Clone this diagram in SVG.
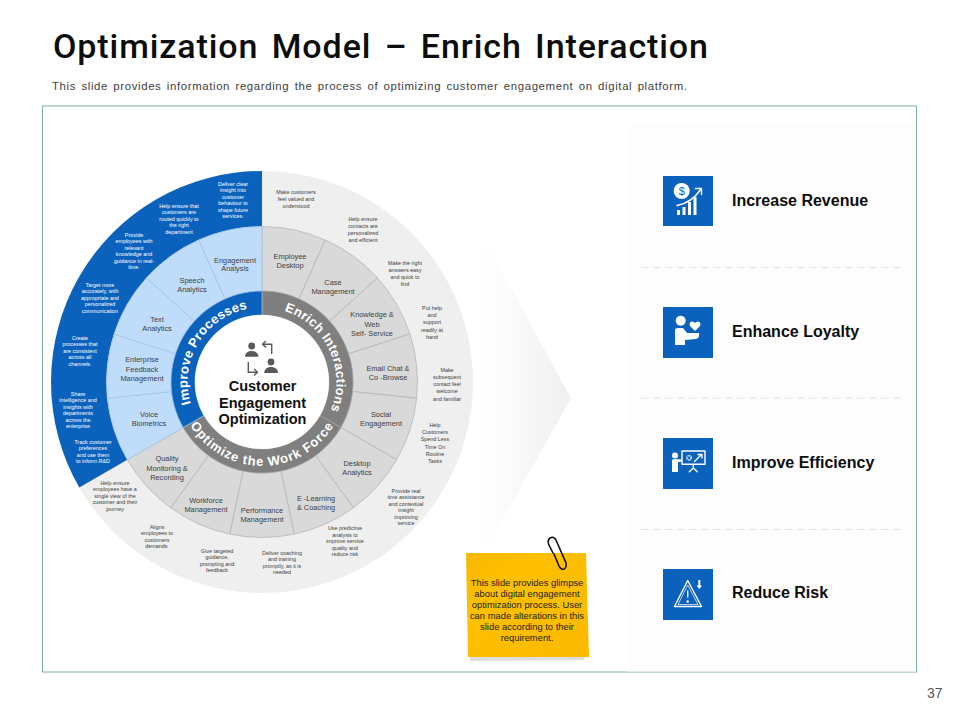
<svg xmlns="http://www.w3.org/2000/svg" width="960" height="720" viewBox="0 0 960 720">
<style>
text{font-family:"Liberation Sans",Arial,sans-serif}
.t{font-family:Roboto,"Liberation Sans",sans-serif;font-weight:500;font-size:34px;fill:#0d0d0d;word-spacing:4px}
.sub{font-size:11.4px;fill:#404040;word-spacing:1.6px}
.o{font-size:5.4px;fill:#404040;text-anchor:middle}
.w{font-size:5.4px;fill:#fff;text-anchor:middle}
.m{font-size:7.4px;fill:#404040;text-anchor:middle}
.r{font-size:13px;font-weight:bold;fill:#fff;text-anchor:middle}
.c{font-size:14.5px;font-weight:bold;fill:#111;text-anchor:middle}
.l{font-size:16px;font-weight:bold;fill:#0d0d0d}
.n{font-size:9.4px;fill:#222;text-anchor:middle}
.sq{fill:#0b62bd}
.lb{fill:#bfdcfb;stroke:#a3c5e8;stroke-width:.8}
.gr{fill:#d9d9d9;stroke:#b8b8b8;stroke-width:.8}
.dash{stroke:#e2e2e2;stroke-width:1;stroke-dasharray:8 4}
.ic{fill:#fff}
.il{fill:none;stroke:#fff;stroke-width:1.4;stroke-linecap:round;stroke-linejoin:round}
.pi{fill:#595959}
.pa{fill:none;stroke:#595959;stroke-width:1.4}
</style>
<defs>
<linearGradient id="chev" x1="0" x2="1" y1="0" y2="0"><stop offset="0" stop-color="#fff"/><stop offset=".3" stop-color="#fbfbfb"/><stop offset="1" stop-color="#efefef"/></linearGradient>
<linearGradient id="note" x1="0" x2="1" y1="0" y2="1"><stop offset="0" stop-color="#f8b800"/><stop offset=".3" stop-color="#ffc000"/><stop offset="1" stop-color="#fbb900"/></linearGradient>
<path id="wedge" d="M262,291V226.5A155.5,155.5 0 0 1 325.2,240L299,298.9A91,91 0 0 0 262,291Z"/>
<path id="ring" d="M262,291A91,91 0 0 1 340.8,427.5L320,415.5A67,67 0 0 0 262,315Z"/>
<path id="pImprove" d="M196.8,418.1A74.5,74.5 0 0 1 263.3,307.5"/>
<path id="pEnrich" d="M268.5,307.8A74.5,74.5 0 0 1 323,424.7"/>
<path id="pOptimize" d="M189.3,424A84,84 0 0 0 334.7,424"/>
</defs>
<rect width="960" height="720" fill="#fff"/>
<g id="header">
<text class="t" x="53" y="58" textLength="655" lengthAdjust="spacing">Optimization Model – Enrich Interaction</text>
<text class="sub" x="52" y="90" textLength="635" lengthAdjust="spacing">This slide provides information regarding the process of optimizing customer engagement on digital platform.</text>
</g>
<rect id="frame" x="42.5" y="106" width="874" height="566" fill="#fff" stroke="#7fb0a0" stroke-width="1"/>
<rect id="panel" x="628" y="125" width="288" height="546.500" fill="#fdfdfd"/>
<polygon id="chevron" points="480,232 571,398 480,560" fill="url(#chev)"/>
<g id="wheel-outer">
<circle cx="262" cy="382" r="211" fill="#efefef"/>
<path d="M79.3,487.5A211,211 0 0 1 262,171V226.5A155.5,155.5 0 0 0 127.3,459.8Z" fill="#0b62bd"/>
</g>
<g id="seg-employee-desktop"><use href="#wedge" class="gr"/><text class="m" x="290" y="259">Employee</text><text class="m" x="290" y="268">Desktop</text><text class="o" x="296" y="194">Make customers</text><text class="o" x="296" y="200.8">feel valued and</text><text class="o" x="296" y="207.6">understood</text></g>
<g id="seg-case-management"><use href="#wedge" class="gr" transform="rotate(24 262 382)"/><text class="m" x="333" y="285">Case</text><text class="m" x="333" y="294">Management</text><text class="o" x="363" y="221">Help ensure</text><text class="o" x="363" y="228">contacts are</text><text class="o" x="363" y="235">personalized</text><text class="o" x="363" y="242">and efficient</text></g>
<g id="seg-knowledge"><use href="#wedge" class="gr" transform="rotate(48 262 382)"/><text class="m" x="372" y="317">Knowledge &amp;</text><text class="m" x="372" y="326.5">Web</text><text class="m" x="372" y="336">Self- Service</text><text class="o" x="405" y="265">Make the right</text><text class="o" x="405" y="272">answers easy</text><text class="o" x="405" y="279">and quick to</text><text class="o" x="405" y="286">find</text></g>
<g id="seg-email-chat"><use href="#wedge" class="gr" transform="rotate(72 262 382)"/><text class="m" x="388" y="371">Email Chat &amp;</text><text class="m" x="388" y="380">Co -Browse</text><text class="o" x="432" y="310">Put help</text><text class="o" x="432" y="317.2">and</text><text class="o" x="432" y="324.4">support</text><text class="o" x="432" y="331.6">readily at</text><text class="o" x="432" y="338.8">hand</text></g>
<g id="seg-social"><use href="#wedge" class="gr" transform="rotate(96 262 382)"/><text class="m" x="381" y="417">Social</text><text class="m" x="381" y="426">Engagement</text><text class="o" x="447" y="372">Make</text><text class="o" x="447" y="379">subsequent</text><text class="o" x="447" y="386">contact feel</text><text class="o" x="447" y="393">welcome</text><text class="o" x="447" y="401">and familiar</text></g>
<g id="seg-desktop-analytics"><use href="#wedge" class="gr" transform="rotate(120 262 382)"/><text class="m" x="357" y="466">Desktop</text><text class="m" x="357" y="475">Analytics</text><text class="o" x="435" y="427">Help</text><text class="o" x="435" y="434.2">Customers</text><text class="o" x="435" y="441.4">Spend Less</text><text class="o" x="435" y="448.6">Time On</text><text class="o" x="435" y="455.8">Routine</text><text class="o" x="435" y="463">Tasks</text></g>
<g id="seg-elearning"><use href="#wedge" class="gr" transform="rotate(144 262 382)"/><text class="m" x="316" y="501">E -Learning</text><text class="m" x="316" y="509.5">&amp; Coaching</text><text class="o" x="406" y="493">Provide real</text><text class="o" x="406" y="499.4">time assistance</text><text class="o" x="406" y="505.8">and contextual</text><text class="o" x="406" y="512.2">insight</text><text class="o" x="406" y="518.6">improving</text><text class="o" x="406" y="525">service</text></g>
<g id="seg-performance"><use href="#wedge" class="gr" transform="rotate(168 262 382)"/><text class="m" x="262" y="513">Performance</text><text class="m" x="262" y="522">Management</text><text class="o" x="345" y="530">Use predictive</text><text class="o" x="345" y="536.6">analysis to</text><text class="o" x="345" y="543.2">improve service</text><text class="o" x="345" y="549.8">quality and</text><text class="o" x="345" y="556.4">reduce risk</text></g>
<g id="seg-workforce"><use href="#wedge" class="gr" transform="rotate(192 262 382)"/><text class="m" x="206" y="503">Workforce</text><text class="m" x="206" y="512">Management</text><text class="o" x="282" y="555">Deliver coaching</text><text class="o" x="282" y="561.4">and training</text><text class="o" x="282" y="567.8">promptly, as it is</text><text class="o" x="282" y="574.2">needed</text><text class="o" x="217" y="553">Give targeted</text><text class="o" x="217" y="559.4">guidance,</text><text class="o" x="217" y="565.8">prompting and</text><text class="o" x="217" y="572.2">feedback</text></g>
<g id="seg-quality"><use href="#wedge" class="gr" transform="rotate(216 262 382)"/><text class="m" x="167" y="461">Quality</text><text class="m" x="167" y="470.5">Monitoring &amp;</text><text class="m" x="167" y="480">Recording</text><text class="o" x="157" y="529">Aligns</text><text class="o" x="157" y="535.4">employees to</text><text class="o" x="157" y="541.8">customers</text><text class="o" x="157" y="548.2">demands.</text><text class="o" x="115" y="485">Help ensure</text><text class="o" x="115" y="491.4">employees have a</text><text class="o" x="115" y="497.8">single view of the</text><text class="o" x="115" y="504.2">customer and their</text><text class="o" x="115" y="510.6">journey</text></g>
<g id="seg-voice"><use href="#wedge" class="lb" transform="rotate(240 262 382)"/><text class="m" x="149" y="417">Voice</text><text class="m" x="149" y="426">Biometrics</text><text class="w" x="93" y="444">Track customer</text><text class="w" x="93" y="450.4">preferences</text><text class="w" x="93" y="456.8">and use them</text><text class="w" x="93" y="463.2">to inform R&amp;D</text></g>
<g id="seg-enterprise"><use href="#wedge" class="lb" transform="rotate(264 262 382)"/><text class="m" x="142" y="362">Enterprise</text><text class="m" x="142" y="371.5">Feedback</text><text class="m" x="142" y="381">Management</text><text class="w" x="78" y="396">Share</text><text class="w" x="78" y="402.4">intelligence and</text><text class="w" x="78" y="408.8">insights with</text><text class="w" x="78" y="415.2">departments</text><text class="w" x="78" y="421.6">across the</text><text class="w" x="78" y="428">enterprise</text><text class="w" x="80" y="340">Create</text><text class="w" x="80" y="346.4">processes that</text><text class="w" x="80" y="352.8">are consistent</text><text class="w" x="80" y="359.2">across all</text><text class="w" x="80" y="365.6">channels.</text></g>
<g id="seg-text"><use href="#wedge" class="lb" transform="rotate(288 262 382)"/><text class="m" x="157" y="322">Text</text><text class="m" x="157" y="331">Analytics</text><text class="w" x="100" y="287">Target more</text><text class="w" x="100" y="293.4">accurately, with</text><text class="w" x="100" y="299.8">appropriate and</text><text class="w" x="100" y="306.2">personalized</text><text class="w" x="100" y="312.6">communication</text></g>
<g id="seg-speech"><use href="#wedge" class="lb" transform="rotate(312 262 382)"/><text class="m" x="192" y="283">Speech</text><text class="m" x="192" y="292">Analytics</text><text class="w" x="134" y="237">Provide</text><text class="w" x="134" y="243.4">employees with</text><text class="w" x="134" y="249.8">relevant</text><text class="w" x="134" y="256.2">knowledge and</text><text class="w" x="134" y="262.6">guidance in real-</text><text class="w" x="134" y="269">time.</text><text class="w" x="179" y="208">Help ensure that</text><text class="w" x="179" y="214.4">customers are</text><text class="w" x="179" y="220.8">routed quickly to</text><text class="w" x="179" y="227.2">the right</text><text class="w" x="179" y="233.6">department</text></g>
<g id="seg-engagement"><use href="#wedge" class="lb" transform="rotate(336 262 382)"/><text class="m" x="235" y="262.5">Engagement</text><text class="m" x="235" y="271">Analysis</text><text class="w" x="233" y="186">Deliver clear</text><text class="w" x="233" y="192.4">insight into</text><text class="w" x="233" y="198.8">customer</text><text class="w" x="233" y="205.2">behaviour to</text><text class="w" x="233" y="211.6">shape future</text><text class="w" x="233" y="218">services.</text></g>
<g id="ring-enrich"><use href="#ring" fill="#7f7f7f" stroke="#a6a6a6" stroke-width=".6"/><text class="r" letter-spacing=".3"><textPath href="#pEnrich" startOffset="50%">Enrich Interactions</textPath></text></g>
<g id="ring-optimize"><use href="#ring" fill="#7f7f7f" stroke="#a6a6a6" stroke-width=".6" transform="rotate(120 262 382)"/><text class="r" letter-spacing=".85"><textPath href="#pOptimize" startOffset="50%">Optimize the Work Force</textPath></text></g>
<g id="ring-improve"><use href="#ring" fill="#0b62bd" stroke="#a6c6e8" stroke-width=".6" transform="rotate(240 262 382)"/><text class="r" letter-spacing=".3"><textPath href="#pImprove" startOffset="50%">Improve Processes</textPath></text></g>
<g id="hub">
<circle cx="262" cy="382" r="67" fill="#fff"/>
<circle class="pi" cx="251.7" cy="346" r="3.4"/><path class="pi" d="M245,356.8C245,349 258.5,349 258.5,356.8Z"/>
<circle class="pi" cx="271" cy="362" r="3.4"/><path class="pi" d="M264.2,373C264.2,365 278,365 278,373Z"/>
<path class="pa" d="M271.7,354V344.3H263"/><path class="pa" d="M266,341L262.5,344.3L266,347.6"/>
<path class="pa" d="M248.3,362V372.3H257"/><path class="pa" d="M254,369L257.5,372.3L254,375.6"/>
<text class="c" x="262.5" y="391">Customer</text><text class="c" x="262.5" y="407.5">Engagement</text><text class="c" x="262.5" y="424">Optimization</text>
</g>
<g id="dividers"><line class="dash" x1="641" y1="267.5" x2="902" y2="267.5"/><line class="dash" x1="641" y1="398" x2="902" y2="398"/><line class="dash" x1="641" y1="529.5" x2="902" y2="529.5"/></g>
<g id="increase-revenue"><rect class="sq" x="663" y="176" width="50" height="50"/>
<circle class="ic" cx="681.7" cy="191" r="8"/><text x="681.7" y="195" font-size="11" fill="#0b62bd" text-anchor="middle">$</text>
<rect class="ic" x="677" y="210" width="3" height="5"/><rect class="ic" x="682.5" y="207" width="3" height="8"/><rect class="ic" x="688" y="202" width="3" height="13"/><rect class="ic" x="693.5" y="197" width="3" height="18"/>
<path class="il" d="M677,205.5C686,204 695,198 701,189M695.5,188.5H701.5V194.5"/>
<text class="l" x="732" y="205.7">Increase Revenue</text></g>
<g id="enhance-loyalty"><rect class="sq" x="663" y="307" width="50" height="51"/>
<circle class="ic" cx="680.7" cy="320.7" r="5"/><path class="ic" d="M675,330Q675,328 678,328H683L687,333H699Q700,338 696,339L685,340V345H675Z"/>
<path class="ic" d="M695,331L690,326Q688.5,322 692,321.5Q694,321.5 695,323Q696,321.5 698,321.5Q701.5,322 700,326Z"/>
<text class="l" x="732" y="336.7">Enhance Loyalty</text></g>
<g id="improve-efficiency"><rect class="sq" x="663" y="438" width="50" height="51"/>
<circle class="ic" cx="675" cy="455.5" r="3"/><path class="ic" d="M671.5,461Q672,459 675,459L682,459.5V461.5L678,462V472H672V461Z"/>
<rect class="il" x="682" y="451" width="23" height="13.3"/><circle cx="689" cy="457.8" r="2.2" fill="none" stroke="#fff" stroke-width="1.5" stroke-dasharray="1 .6"/><path class="il" d="M694.5,461.5L701,455M698,454.5H702V458"/>
<path class="il" d="M693.3,464.5V468L689.3,471.7M693.3,468L697.3,471.7"/>
<text class="l" x="732" y="467.7">Improve Efficiency</text></g>
<g id="reduce-risk"><rect class="sq" x="663" y="569" width="50" height="51"/>
<path class="il" d="M687.7,580.5L674.5,606.5H701.5Z"/><path fill="none" stroke="#fff" stroke-width=".7" d="M687.7,585L678,604.5H698Z"/>
<path class="il" d="M687.7,591V597"/><circle class="ic" cx="687.7" cy="601.5" r="1.2"/>
<path class="ic" d="M698.3,580H700.3V585.5H702L699.3,589L696.6,585.5H698.3Z"/>
<text class="l" x="732" y="598.3">Reduce Risk</text></g>
<g id="sticky-note">
<polygon points="471,652 586,652 584,660 470,661" fill="#dedede"/>
<polygon points="466,553 586,553 589,657 468,657" fill="url(#note)"/>
<text class="n" x="527" y="586">This slide provides glimpse</text><text class="n" x="527" y="597">about digital engagement</text><text class="n" x="527" y="608">optimization process. User</text><text class="n" x="527" y="619">can made alterations in this</text><text class="n" x="527" y="630">slide according to their</text><text class="n" x="527" y="641">requirement.</text>
<path fill="none" stroke="#111" stroke-width="1.6" stroke-linecap="round" d="M553,553L548.5,544C547,538 553,534.5 556,540L566,563C567,569 562,572 559,566L554,554"/>
</g>
<text id="page-number" x="927" y="698" font-size="14" fill="#555">37</text>
</svg>
